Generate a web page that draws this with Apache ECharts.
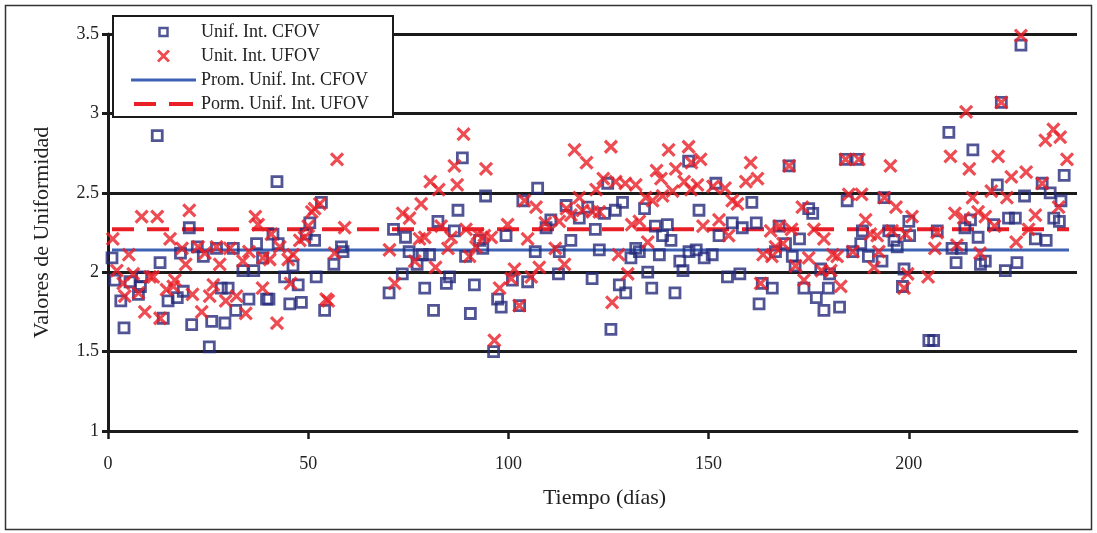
<!DOCTYPE html>
<html>
<head>
<meta charset="utf-8">
<title>Valores de Uniformidad</title>
<script src="https://cdn.jsdelivr.net/npm/echarts@6.0.0/dist/echarts.min.js"></script>
<style>
    html, body { margin: 0; padding: 0; background: #fff; }
    #chart { width: 1097px; height: 533px; }
</style>
</head>
<body>
<div id="chart"></div>
<script>
// [dia, valor]
var cfovPuntos = [
    [1, 2.09], [1.7, 1.95], [3.2, 1.82], [4, 1.65], [5.5, 1.94], [7.6, 1.86], [8.1, 1.91], [8.4, 1.97],
    [12.3, 2.86], [13, 2.06], [13.8, 1.71], [15, 1.82], [17.3, 1.84], [18.1, 2.12], [18.8, 1.88], [20.3, 2.28],
    [20.9, 1.67], [22.3, 2.16], [23.8, 2.10], [25.3, 1.53], [25.9, 1.69], [27.1, 2.15], [28.3, 1.90], [29.2, 1.68],
    [30, 1.90], [31.3, 2.15], [31.9, 1.76], [33.7, 2.01], [35.2, 1.83], [36.4, 2.01], [37.1, 2.18], [38.6, 2.09],
    [39.6, 1.83], [40.2, 1.83], [41.2, 2.24], [42.2, 2.57], [42.5, 2.18], [44.1, 1.97], [45.4, 1.80], [46.2, 2.04],
    [47.5, 1.92], [48.3, 1.81], [49.5, 2.24], [50.4, 2.31], [51.6, 2.20], [52, 1.97], [53.3, 2.44], [54.1, 1.76],
    [56.4, 2.05], [58.3, 2.16], [58.7, 2.13], [70.2, 1.87], [71.3, 2.27], [73.5, 1.99], [74.3, 2.22], [75.2, 2.13],
    [77.2, 2.05], [78.5, 2.11], [79.1, 1.90], [80.3, 2.11], [81.3, 1.76], [82.4, 2.32], [84.5, 1.93], [85.3, 1.97],
    [86.5, 2.26], [87.4, 2.39], [88.5, 2.72], [89.3, 2.10], [90.5, 1.74], [91.5, 1.92], [92.8, 2.20], [93.6, 2.15],
    [94.3, 2.48], [96.3, 1.50], [97.3, 1.83], [98.2, 1.78], [99.4, 2.23], [101, 1.95], [102.8, 1.79], [103.6, 2.45],
    [104.8, 1.94], [106.7, 2.13], [107.3, 2.53], [109.4, 2.28], [110.6, 2.33], [112.5, 1.99], [112.7, 2.13], [114.4, 2.42],
    [115.6, 2.20], [117.7, 2.34], [119.8, 2.41], [120.9, 1.96], [121.7, 2.27], [122.7, 2.14], [124, 2.37], [124.8, 2.56],
    [125.6, 1.64], [126.7, 2.39], [127.7, 1.92], [128.5, 2.44], [129.3, 1.87], [130.6, 2.09], [131.8, 2.15], [132.7, 2.13],
    [134, 2.40], [134.8, 2.00], [135.8, 1.90], [136.7, 2.29], [137.7, 2.11], [138.5, 2.23], [139.7, 2.30], [140.6, 2.20],
    [141.6, 1.87], [142.8, 2.07], [143.6, 2.01], [145, 2.70], [145.1, 2.13], [146.9, 2.14], [147.6, 2.39], [148.9, 2.09],
    [150.9, 2.11], [151.8, 2.56], [152.6, 2.23], [154.7, 1.97], [155.9, 2.31], [157.8, 1.99], [158.4, 2.28], [160.8, 2.44],
    [161.9, 2.31], [162.6, 1.80], [163.4, 1.93], [165.9, 1.90], [166.7, 2.13], [167.6, 2.29], [169.2, 2.18], [170.1, 2.67],
    [170.9, 2.10], [171.6, 2.04], [172.7, 2.21], [173.8, 1.90], [175, 2.40], [176, 2.37], [176.9, 1.84], [178, 2.02],
    [178.8, 1.76], [179.9, 1.90], [180.2, 1.99], [182.7, 1.78], [184.2, 2.71], [184.6, 2.45], [186, 2.13], [187.1, 2.71],
    [188, 2.18], [188.4, 2.26], [189.9, 2.10], [193.3, 2.07], [193.8, 2.47], [195, 2.26], [196.3, 2.20], [197.1, 2.16],
    [198.4, 1.91], [198.8, 2.02], [200, 2.32], [200.2, 2.23], [205, 1.57], [206.2, 1.57], [207.1, 2.26], [210, 2.88],
    [210.8, 2.15], [211.8, 2.06], [213.1, 2.15], [214, 2.28], [215.4, 2.33], [216, 2.77], [217.3, 2.22], [217.9, 2.05],
    [219.1, 2.07], [221.2, 2.30], [222.1, 2.55], [223.1, 3.07], [224.1, 2.01], [224.9, 2.34], [226.6, 2.34], [227, 2.06],
    [228, 3.43], [228.9, 2.48], [231.6, 2.21], [233.3, 2.56], [234.3, 2.20], [235.3, 2.50], [236.2, 2.34], [237.6, 2.32],
    [238, 2.45], [238.8, 2.61]
];

var ufovPuntos = [
    [1.2, 2.21], [2.2, 2.01], [3.8, 1.93], [4.2, 1.85], [5.2, 2.11], [6.3, 1.99], [7.6, 1.87], [8.4, 2.35],
    [9.2, 1.75], [10.5, 1.97], [11.3, 1.97], [12.3, 2.35], [13, 1.71], [14.6, 1.89], [15.5, 2.21], [16.3, 1.91],
    [16.7, 1.95], [18.5, 2.15], [19.4, 2.05], [20.3, 2.39], [21.1, 1.86], [22.5, 2.16], [23.4, 1.75], [24.2, 2.12],
    [25.4, 1.85], [26.3, 1.92], [27.1, 2.16], [27.9, 2.05], [29.4, 1.82], [30.4, 2.15], [32.1, 1.85], [33.7, 2.07],
    [34.4, 1.74], [35.2, 2.13], [36.8, 2.35], [37.5, 2.30], [38.6, 1.90], [38.7, 2.09], [40.4, 2.08], [40.8, 2.24],
    [42.2, 1.68], [42.9, 2.16], [45, 2.08], [45.6, 1.93], [46.2, 2.11], [47.9, 2.20], [49.1, 2.22], [50, 2.29],
    [50.9, 2.38], [51.6, 2.40], [52.9, 2.43], [54.5, 1.83], [55, 1.82], [56.6, 2.12], [57.2, 2.71], [59.1, 2.28],
    [70.3, 2.14], [71.6, 1.93], [73.6, 2.37], [75.3, 2.34], [76.6, 2.07], [77.8, 2.21], [78.2, 2.43], [79.1, 2.22],
    [80.5, 2.57], [81.8, 2.03], [82.6, 2.52], [83.2, 2.29], [84.9, 2.15], [85.7, 2.22], [86.5, 2.67], [87.2, 2.55],
    [88.8, 2.87], [89.4, 2.27], [90.3, 2.10], [91.9, 2.16], [92.3, 2.24], [94, 2.23], [94.4, 2.65], [95.7, 2.22],
    [96.5, 1.57], [97.8, 1.90], [99.8, 2.30], [100.7, 1.96], [101.5, 2.02], [102.7, 1.79], [104, 2.45], [104.8, 2.21],
    [105.7, 1.97], [106.9, 2.41], [107.7, 2.03], [109.2, 2.31], [111.7, 2.15], [112.7, 2.32], [114, 2.05], [114.5, 2.40],
    [115.6, 2.36], [116.5, 2.77], [117.7, 2.47], [118.5, 2.39], [119.5, 2.69], [121, 2.38], [121.9, 2.52], [122.7, 2.38],
    [123.7, 2.59], [125.6, 2.79], [125.9, 1.81], [126.8, 2.57], [127.5, 2.11], [129.2, 2.56], [129.8, 1.99], [130.8, 2.30],
    [131.8, 2.55], [132.7, 2.32], [134.3, 2.47], [134.8, 2.19], [136, 2.45], [137, 2.64], [138.1, 2.59], [138.5, 2.48],
    [140, 2.77], [141, 2.51], [141.8, 2.65], [143.9, 2.57], [145, 2.79], [145.6, 2.52], [145.7, 2.69], [147.2, 2.55],
    [148, 2.71], [148.6, 2.29], [151.1, 2.54], [152.6, 2.33], [154.1, 2.53], [155, 2.23], [155.9, 2.45], [157.2, 2.43],
    [159.3, 2.57], [160.5, 2.69], [162.2, 2.59], [163, 1.93], [163.6, 2.11], [165.5, 2.26], [165.8, 2.10], [166.7, 2.16],
    [167.7, 2.29], [168.6, 2.18], [170.1, 2.67], [170.7, 2.27], [171.7, 2.04], [173.4, 2.41], [173.8, 1.95], [175, 2.09],
    [176.3, 2.27], [178.2, 2.01], [178.8, 2.21], [180.5, 2.01], [181, 2.11], [182.1, 2.10], [183, 1.91], [184.2, 2.71],
    [185, 2.49], [186, 2.13], [187.5, 2.71], [188.2, 2.49], [189.2, 2.33], [190.4, 2.24], [191.3, 2.03], [192.1, 2.23],
    [192.5, 2.13], [193.9, 2.47], [195.4, 2.67], [195.8, 2.26], [196.8, 2.41], [198.8, 1.90], [199.2, 2.24], [199.7, 1.99],
    [200.8, 2.35], [204.8, 1.97], [206.5, 2.15], [207.1, 2.25], [210.4, 2.73], [211.5, 2.37], [212, 2.17], [213.7, 2.34],
    [214.3, 3.01], [215.1, 2.65], [215.9, 2.47], [217.3, 2.38], [217.8, 2.12], [219.1, 2.35], [220.6, 2.51], [221.4, 2.29],
    [222.3, 2.73], [223.1, 3.07], [224.5, 2.47], [225.6, 2.60], [226.8, 2.19], [228, 3.49], [229.3, 2.63], [229.9, 2.27],
    [231.6, 2.36], [233.3, 2.56], [234.1, 2.83], [236.1, 2.90], [237.4, 2.41], [237.8, 2.85], [239.5, 2.71]
];

// promedios (lineas horizontales)
var promCFOV = 2.14;
var promUFOV = 2.27;
var promDias = [1, 240];

var xTicks = [0, 50, 100, 150, 200];
var nombres = ['Unif. Int. CFOV', 'Unit. Int. UFOV', 'Prom. Unif. Int. CFOV', 'Porm. Unif. Int. UFOV'];

var fuente = 'Liberation Serif';
var negro = '#1b1b1b';
var azulMarca = '#252a7a';
var rojo = '#e91f27';
var azulLinea = '#3d62b3';
var sinRelleno = 'rgba(0,0,0,0)';
var rayas = [22, 13];

var chart = echarts.init(document.getElementById('chart'));
chart.setOption({
    animation: false,
    backgroundColor: '#fff',
    textStyle: { fontFamily: fuente, color: '#222' },
    graphic: [{
        type: 'rect',
        shape: { x: 5.5, y: 5.5, width: 1086, height: 524 },
        style: { fill: 'none', stroke: '#333', lineWidth: 1.5 },
        z: -10
    }],
    grid: { left: 108, right: 20, top: 34, bottom: 102 },
    legend: {
        orient: 'vertical',
        left: 113,
        top: 16,
        padding: [7, 24, 4, 16],
        itemGap: 6,
        itemWidth: 65,
        itemHeight: 14,
        backgroundColor: '#fff',
        borderColor: negro,
        borderWidth: 2,
        borderRadius: 0,
        textStyle: { fontFamily: fuente, fontSize: 18, color: '#222' },
        // iconos a escala 1:1 (65x14) para que el trazo no se deforme
        data: [
            { name: nombres[0], icon: 'path://M0,0M14,14M3,3L11,3L11,11L3,11Z',
              itemStyle: { color: sinRelleno, borderColor: azulMarca, borderWidth: 2.5 } },
            { name: nombres[1], icon: 'path://M0,0M14,14M1.5,1.5L12.5,12.5M12.5,1.5L1.5,12.5',
              itemStyle: { color: sinRelleno, borderColor: rojo, borderWidth: 3 } },
            { name: nombres[2], icon: 'path://M0,0M65,14M0,7L67,7',
              itemStyle: { color: sinRelleno, borderColor: azulLinea, borderWidth: 3 } },
            { name: nombres[3], icon: 'path://M0,0M65,14M3,7L25,7M38,7L62,7',
              itemStyle: { color: sinRelleno, borderColor: rojo, borderWidth: 4 } }
        ]
    },
    xAxis: {
        type: 'value',
        min: 0,
        max: 242,
        name: 'Tiempo (días)',
        nameLocation: 'middle',
        nameGap: 56,
        nameTextStyle: { fontFamily: fuente, fontSize: 22, color: '#222', padding: [0, 0, 0, 24] },
        axisLine: { show: true, lineStyle: { color: negro, width: 3 } },
        axisTick: { show: true, customValues: xTicks, length: 8, lineStyle: { color: negro, width: 2.5 } },
        axisLabel: { customValues: xTicks, margin: 24, fontFamily: fuente, fontSize: 18, color: '#222' },
        splitLine: { show: false }
    },
    yAxis: {
        type: 'value',
        min: 1,
        max: 3.5,
        interval: 0.5,
        name: 'Valores de Uniformidad',
        nameLocation: 'middle',
        nameGap: 55,
        nameRotate: 90,
        nameTextStyle: { fontFamily: fuente, fontSize: 22, color: '#222' },
        axisLine: { show: true, lineStyle: { color: negro, width: 3 } },
        axisTick: { show: true, length: 6, lineStyle: { color: negro, width: 3 } },
        axisLabel: { margin: 9, fontFamily: fuente, fontSize: 18, color: '#222' },
        splitLine: { show: true, lineStyle: { color: negro, width: 3 } }
    },
    series: [{
        name: nombres[0],
        type: 'scatter',
        symbol: 'rect',
        symbolSize: 10,
        itemStyle: { color: sinRelleno, borderColor: azulMarca, borderWidth: 2.8 },
        emphasis: { disabled: true },
        z: 3,
        data: cfovPuntos
    }, {
        name: nombres[1],
        type: 'scatter',
        symbol: 'path://M0,0L10,10M10,0L0,10',
        symbolSize: 12,
        itemStyle: { color: sinRelleno, borderColor: rojo, borderWidth: 3.2 },
        emphasis: { disabled: true },
        z: 4,
        data: ufovPuntos
    }, {
        name: nombres[2],
        type: 'line',
        symbol: 'none',
        lineStyle: { color: azulLinea, width: 3 },
        itemStyle: { color: azulLinea },
        emphasis: { disabled: true },
        z: 2,
        data: promDias.map(function (d) { return [d, promCFOV]; })
    }, {
        name: nombres[3],
        type: 'line',
        symbol: 'none',
        lineStyle: { color: rojo, width: 4, type: rayas },
        itemStyle: { color: rojo },
        emphasis: { disabled: true },
        z: 2,
        data: promDias.map(function (d) { return [d, promUFOV]; })
    }]
});
</script>
</body>
</html>
